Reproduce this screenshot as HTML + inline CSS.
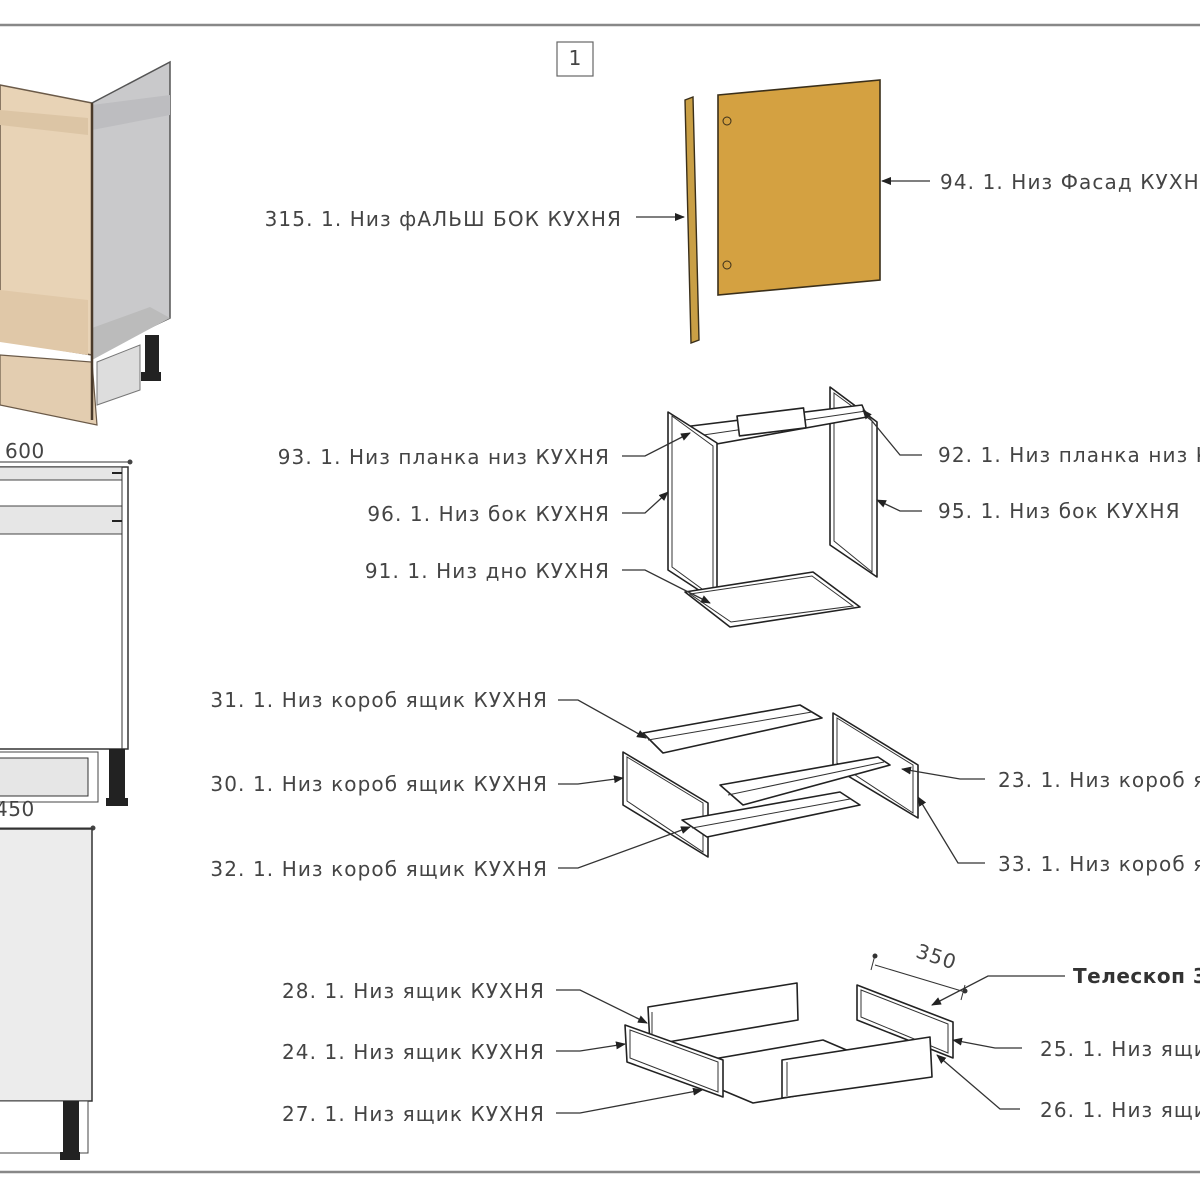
<!DOCTYPE html>
<html><head><meta charset="utf-8"><style>
html,body{margin:0;padding:0;background:#fff;width:1200px;height:1200px;overflow:hidden}
svg{display:block}
text{font-family:"DejaVu Sans","Liberation Sans",sans-serif;fill:#444;font-size:20px;letter-spacing:1.1px}
.p{fill:#fff;stroke:#222;stroke-width:1.6;stroke-linejoin:round}
.i{fill:none;stroke:#333;stroke-width:1}
.l{fill:none;stroke:#333;stroke-width:1.3}
</style></head><body>
<svg width="1200" height="1200" viewBox="0 0 1200 1200" xmlns="http://www.w3.org/2000/svg">
<defs><marker id="a" markerWidth="10" markerHeight="8" refX="9" refY="4" orient="auto" markerUnits="userSpaceOnUse"><path d="M0,0 L10,4 L0,8 z" fill="#222"/></marker></defs>
<line x1="0" y1="25" x2="1200" y2="25" stroke="#888" stroke-width="2.5"/>
<line x1="0" y1="1172" x2="1200" y2="1172" stroke="#888" stroke-width="2.5"/>
<rect x="557" y="42" width="36" height="34" fill="#fff" stroke="#666" stroke-width="1.2"/>
<text x="575" y="65" font-size="13" text-anchor="middle" style="letter-spacing:0">1</text>

<!-- 3D cabinet -->
<polygon points="0,85 92,103 92,355 0,340" fill="#e8d3b6" stroke="#6b5a48" stroke-width="1.5"/>
<polygon points="0,110 88,118 88,135 0,125" fill="#dcc5a5"/>
<polygon points="0,290 88,300 88,355 0,342" fill="#e0c8a8"/>
<polygon points="0,355 92,362 97,425 0,405" fill="#e3cdb0" stroke="#6b5a48" stroke-width="1.2"/>
<polygon points="92,103 170,62 170,318 92,355" fill="#c9c9cb" stroke="#555" stroke-width="1.5"/>
<polygon points="92,105 170,95 170,115 92,130" fill="#bdbdc0"/>
<polygon points="92,328 150,307 170,318 92,360" fill="#bbb"/>
<polygon points="97,362 140,345 140,390 97,405" fill="#ddd" stroke="#777"/>
<rect x="145" y="335" width="14" height="42" fill="#222"/>
<rect x="141" y="372" width="20" height="9" fill="#222"/>
<line x1="92" y1="103" x2="92" y2="420" stroke="#4a3a2a" stroke-width="2.5"/>

<!-- front view -->
<text x="5" y="458" font-size="18" style="letter-spacing:0.5px">600</text>
<line x1="0" y1="462" x2="130" y2="462" class="i"/>
<circle cx="130" cy="462" r="2.5" fill="#444"/>
<rect x="-2" y="467" width="130" height="282" fill="#fff" stroke="#333" stroke-width="1.5"/>
<rect x="-2" y="467" width="124" height="13" fill="#e6e6e6" stroke="#444"/>
<rect x="-2" y="506" width="124" height="28" fill="#e6e6e6" stroke="#444"/>
<line x1="122" y1="467" x2="122" y2="749" class="i"/>
<line x1="112" y1="473" x2="122" y2="473" stroke="#222" stroke-width="2"/>
<line x1="112" y1="521" x2="122" y2="521" stroke="#222" stroke-width="2"/>
<rect x="-2" y="752" width="100" height="50" fill="#fff" stroke="#444"/>
<rect x="-2" y="758" width="90" height="38" fill="#e6e6e6" stroke="#333"/>
<rect x="109" y="749" width="16" height="56" fill="#222"/>
<rect x="106" y="798" width="22" height="8" fill="#222"/>
<text x="-5" y="816" font-size="18" style="letter-spacing:0.5px">450</text>
<line x1="0" y1="828" x2="93" y2="828" class="i"/>
<circle cx="93" cy="828" r="2.5" fill="#444"/>
<rect x="-2" y="829" width="94" height="272" fill="#ececec" stroke="#333" stroke-width="1.5"/>
<rect x="-2" y="1101" width="90" height="52" fill="#fff" stroke="#444"/>
<rect x="63" y="1101" width="16" height="58" fill="#222"/>
<rect x="60" y="1152" width="20" height="8" fill="#222"/>

<!-- facade & false side -->
<polygon points="685,100 693,97 699,340 691,343" fill="#c99f45" stroke="#3a2f1a" stroke-width="1.4"/>
<polygon points="718,95 880,80 880,280 718,295" fill="#d4a141" stroke="#3a2f1a" stroke-width="1.6"/>
<circle cx="727" cy="121" r="4" fill="none" stroke="#3a2f1a"/>
<circle cx="727" cy="265" r="4" fill="none" stroke="#3a2f1a"/>

<!-- carcass -->
<polygon class="p" points="830,387 877,422 877,577 830,545"/>
<polygon class="i" points="834,393 872,421 872,572 834,541"/>
<polygon class="p" points="683,427 862,405 867,417 683,450"/>
<line x1="683" y1="438" x2="866" y2="411" class="i"/>
<rect x="738" y="412" width="67" height="20" class="p" transform="rotate(-7 771 422)"/>
<polygon class="p" points="668,412 717,443 717,602 668,570"/>
<polygon class="i" points="672,416 713,446 713,597 672,567"/>
<polygon class="p" points="685,592 813,572 860,607 730,627"/>
<polygon class="i" points="690,594 812,576 853,606 731,622"/>

<!-- drawer box -->
<polygon class="p" points="643,733 800,705 822,718 663,753"/>
<line x1="648" y1="740" x2="812" y2="712" class="i"/>
<polygon class="p" points="623,752 708,803 708,857 623,805"/>
<polygon class="i" points="627,757 703,803 703,852 627,801"/>
<polygon class="p" points="833,713 918,765 918,818 833,767"/>
<polygon class="i" points="837,718 913,765 913,813 837,763"/>
<polygon class="p" points="720,785 878,757 890,765 743,805"/>
<line x1="728" y1="795" x2="884" y2="762" class="i"/>
<polygon class="p" points="682,820 840,792 860,805 707,837"/>
<line x1="692" y1="828" x2="850" y2="799" class="i"/>

<!-- drawer -->
<polygon class="p" points="667,1067 823,1040 910,1077 753,1103"/>
<polygon class="p" points="648,1007 797,983 798,1020 650,1045"/>
<line x1="652" y1="1012" x2="652" y2="1043" class="i"/>
<polygon class="p" points="625,1025 723,1060 723,1097 627,1062"/>
<polygon class="i" points="630,1030 718,1062 718,1092 630,1058"/>
<polygon class="p" points="857,985 953,1022 953,1058 857,1020"/>
<polygon class="i" points="861,990 948,1024 948,1053 861,1017"/>
<polygon class="p" points="782,1060 930,1037 932,1077 782,1098"/>
<line x1="787" y1="1062" x2="787" y2="1096" class="i"/>
<line x1="875" y1="965" x2="965" y2="992" class="i"/>
<line x1="875" y1="955" x2="871" y2="970" class="i"/>
<line x1="965" y1="985" x2="961" y2="1000" class="i"/>
<circle cx="875" cy="956" r="2.5" fill="#333"/>
<circle cx="965" cy="991" r="2.5" fill="#333"/>
<text x="913" y="962" font-size="17" transform="rotate(18 930 965)">350</text>

<!-- leaders -->
<g class="l">
<polyline points="636,217 684,217" marker-end="url(#a)"/>
<polyline points="930,181 882,181" marker-end="url(#a)"/>
<polyline points="622,456 645,456 690,433" marker-end="url(#a)"/>
<polyline points="922,455 900,455 863,410" marker-end="url(#a)"/>
<polyline points="622,513 645,513 668,492" marker-end="url(#a)"/>
<polyline points="922,511 900,511 877,500" marker-end="url(#a)"/>
<polyline points="622,570 645,570 710,603" marker-end="url(#a)"/>
<polyline points="558,700 578,700 646,738" marker-end="url(#a)"/>
<polyline points="558,784 578,784 623,778" marker-end="url(#a)"/>
<polyline points="558,868 578,868 690,827" marker-end="url(#a)"/>
<polyline points="985,779 960,779 902,769" marker-end="url(#a)"/>
<polyline points="985,863 958,863 918,797" marker-end="url(#a)"/>
<polyline points="556,990 580,990 647,1023" marker-end="url(#a)"/>
<polyline points="556,1051 580,1051 625,1044" marker-end="url(#a)"/>
<polyline points="556,1113 580,1113 702,1090" marker-end="url(#a)"/>
<polyline points="1022,1048 995,1048 953,1040" marker-end="url(#a)"/>
<polyline points="1020,1109 1000,1109 937,1055" marker-end="url(#a)"/>
<polyline points="1065,976 988,976 932,1005" marker-end="url(#a)"/>
</g>

<!-- labels -->
<text x="622" y="226" text-anchor="end">315. 1. Низ фАЛЬШ БОК КУХНЯ</text>
<text x="940" y="189">94. 1. Низ Фасад КУХНЯ</text>
<text x="610" y="464" text-anchor="end">93. 1. Низ планка низ КУХНЯ</text>
<text x="938" y="462">92. 1. Низ планка низ КУХНЯ</text>
<text x="610" y="521" text-anchor="end">96. 1. Низ бок КУХНЯ</text>
<text x="938" y="518">95. 1. Низ бок КУХНЯ</text>
<text x="610" y="578" text-anchor="end">91. 1. Низ дно КУХНЯ</text>
<text x="548" y="707" text-anchor="end">31. 1. Низ короб ящик КУХНЯ</text>
<text x="548" y="791" text-anchor="end">30. 1. Низ короб ящик КУХНЯ</text>
<text x="548" y="876" text-anchor="end">32. 1. Низ короб ящик КУХНЯ</text>
<text x="998" y="787">23. 1. Низ короб ящик КУХНЯ</text>
<text x="998" y="871">33. 1. Низ короб ящик КУХНЯ</text>
<text x="545" y="998" text-anchor="end">28. 1. Низ ящик КУХНЯ</text>
<text x="545" y="1059" text-anchor="end">24. 1. Низ ящик КУХНЯ</text>
<text x="545" y="1121" text-anchor="end">27. 1. Низ ящик КУХНЯ</text>
<text x="1040" y="1056">25. 1. Низ ящик КУХНЯ</text>
<text x="1040" y="1117">26. 1. Низ ящик КУХНЯ</text>
<text x="1073" y="983" font-size="17" font-weight="bold" style="fill:#333;letter-spacing:0.5px">Телескоп 350</text>
</svg>
</body></html>
